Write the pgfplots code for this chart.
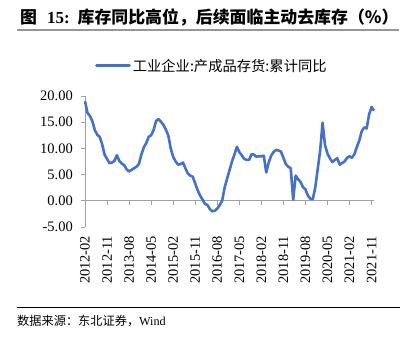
\documentclass[border=0pt]{standalone}
\usepackage{pgfplots}
\pgfplotsset{compat=1.18}
\usepackage{fontspec}
\setmainfont{Liberation Serif}
\newfontfamily\cjk{Noto Sans CJK SC}
\definecolor{lineblue}{RGB}{68,114,196}
\definecolor{axgray}{RGB}{160,160,160}
\definecolor{rulegray}{RGB}{150,150,150}
\pgfplotstableread{
m v
0 19.0
1 16.8
2 16.2
3 15.2
4 13.5
5 12.6
6 12.2
7 10.8
8 8.8
9 8.0
10 7.2
11 7.3
12 7.6
13 8.7
14 7.6
15 7.1
16 6.8
17 6.0
18 5.6
19 5.9
20 6.2
21 6.5
22 7.0
23 8.8
24 10.2
25 11.0
26 12.2
27 12.5
28 13.5
29 15.2
30 15.6
31 15.1
32 14.5
33 13.6
34 12.5
35 10.0
36 8.4
37 7.5
38 6.9
39 7.0
40 7.3
41 6.2
42 5.2
43 4.8
44 4.6
45 3.3
46 2.0
47 1.0
48 0.2
49 -0.6
50 -0.8
51 -1.6
52 -2.0
53 -1.9
54 -1.5
55 -0.8
56 0.0
57 2.5
58 4.2
59 5.8
60 7.5
61 8.8
62 10.3
63 9.3
64 8.7
65 8.0
66 7.8
67 7.8
68 8.9
69 8.8
70 8.4
71 8.5
72 8.5
73 8.6
74 5.4
75 7.3
76 8.6
77 9.3
78 9.7
79 9.6
80 9.4
81 8.2
82 7.0
83 6.5
84 6.2
85 0.2
86 4.8
87 4.1
88 3.6
89 2.6
90 2.2
91 1.0
92 0.4
93 0.3
94 2.5
95 6.0
96 9.5
97 14.9
98 10.6
99 9.0
100 8.1
101 7.4
102 7.8
103 8.1
104 6.9
105 7.2
106 7.5
107 8.2
108 8.5
109 8.2
110 8.9
111 10.3
112 11.5
113 13.3
114 14.0
115 13.8
116 16.5
117 17.9
118 17.2
}\datatable
\begin{document}
\begin{tikzpicture}
\path[use as bounding box] (0,0) rectangle (414pt,339pt);
\node[anchor=west, inner sep=0pt] at (20pt,322pt) {\fontsize{16.9}{17}\selectfont\bfseries{\cjk 图}\hspace{10pt}15:\hspace{8pt}{\cjk 库存同比高位，后续面临主动去库存（\%）}};
\draw[line width=2pt, rulegray] (17pt,309pt) -- (399pt,309pt);
\begin{axis}[
  at={(85pt,112pt)}, anchor=south west, scale only axis,
  width=289pt, height=131pt,
  xmin=0, xmax=118, ymin=-5, ymax=20,
  axis x line=middle, axis y line=left,
  hide obscured x ticks=false,
  axis line style={-, draw=axgray, line width=0.8pt},
  tick style={axgray, line width=0.8pt},
  tick align=outside, major tick length=4pt,
  ytick={-5,0,5,10,15,20},
  xtick={0,9,...,117},
  xticklabels={2012-02,2012-11,2013-08,2014-05,2015-02,2015-11,2016-08,2017-05,2018-02,2018-11,2019-08,2020-05,2021-02,2021-11},
  x tick label style={rotate=90, anchor=east, inner sep=0pt, font=\fontsize{14.4}{14.4}\selectfont},
  xticklabel shift=31pt,
  y tick label style={anchor=east, inner sep=0pt, font=\fontsize{14.5}{14.5}\selectfont},
  yticklabel shift=8pt,
  /pgf/number format/assume math mode=true,
  yticklabel={\pgfmathprintnumber[fixed, fixed zerofill, precision=2]{\tick}},
  legend style={at={(0.0346,1.231)}, anchor=west, draw=none, fill=none, inner sep=0pt,
    font=\cjk\fontsize{14.3}{14.5}\selectfont},
  legend image code/.code={\draw[#1, line cap=round] (0pt,0pt) -- (33pt,0pt);},
  clip=false,
]
\addplot[lineblue, line width=2.6pt, line join=round] table[x=m, y=v] {\datatable};
\addlegendentry{工业企业:产成品存货:累计同比}
\end{axis}
\draw[line width=0.8pt] (17pt,32pt) -- (400pt,32pt);
\node[anchor=west, inner sep=0pt] at (17pt,18.3pt) {\fontsize{12.2}{13}\selectfont{\cjk 数据来源：东北证券，}Wind};
\end{tikzpicture}
\end{document}
